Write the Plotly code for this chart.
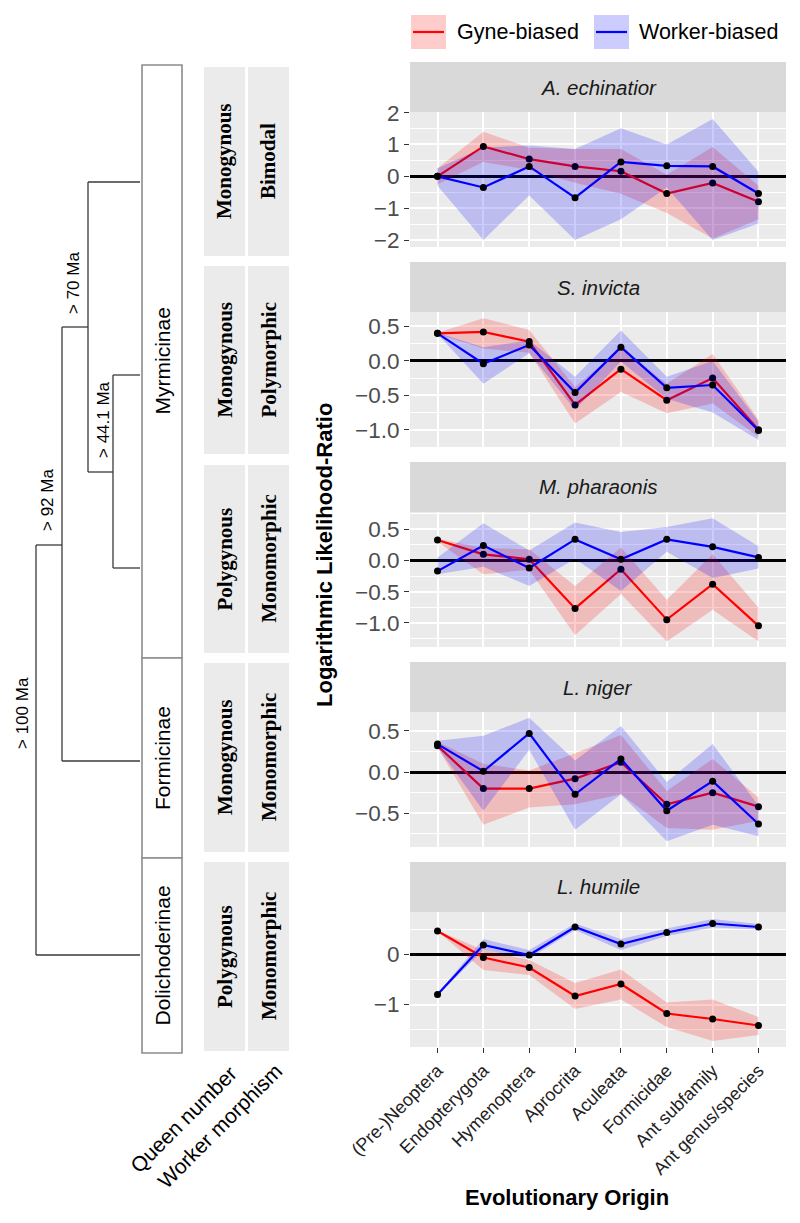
import plotly.graph_objects as go

# ---------------- data ----------------
origins = ["(Pre-)Neoptera", "Endopterygota", "Hymenoptera", "Aprocrita",
           "Aculeata", "Formicidae", "Ant subfamily", "Ant genus/species"]
species = ["A. echinatior", "S. invicta", "M. pharaonis", "L. niger", "L. humile"]

ae_gyne = [0.0, 0.94, 0.54, 0.31, 0.16, -0.54, -0.21, -0.80]
ae_gyne_hi = [0.25, 1.40, 0.90, 0.86, 0.86, 0.05, 0.92, -0.30]
ae_gyne_lo = [-0.25, 0.45, 0.20, -0.20, -0.55, -1.15, -1.95, -1.35]
ae_worker = [0.0, -0.35, 0.31, -0.67, 0.45, 0.33, 0.31, -0.54]
ae_worker_hi = [0.25, 0.90, 0.97, 0.86, 1.51, 1.00, 1.80, 0.14]
ae_worker_lo = [-0.30, -2.00, -0.60, -2.00, -1.35, -0.35, -2.00, -1.48]

si_gyne = [0.40, 0.42, 0.28, -0.64, -0.12, -0.57, -0.25, -1.00]
si_gyne_hi = [0.41, 0.62, 0.45, -0.38, 0.18, -0.33, 0.10, -0.85]
si_gyne_lo = [0.39, 0.18, 0.12, -0.91, -0.45, -0.76, -0.62, -1.10]
si_worker = [0.40, -0.04, 0.23, -0.46, 0.20, -0.39, -0.35, -1.01]
si_worker_hi = [0.41, 0.20, 0.30, -0.23, 0.44, -0.23, 0.00, -0.88]
si_worker_lo = [0.39, -0.33, 0.11, -0.71, -0.01, -0.55, -0.75, -1.15]

mp_gyne = [0.33, 0.10, 0.02, -0.77, -0.14, -0.95, -0.38, -1.05]
mp_gyne_hi = [0.35, 0.20, 0.18, -0.41, 0.21, -0.63, 0.10, -0.76]
mp_gyne_lo = [0.30, -0.22, -0.15, -1.20, -0.54, -1.30, -0.79, -1.30]
mp_worker = [-0.17, 0.24, -0.12, 0.34, 0.02, 0.34, 0.22, 0.05]
mp_worker_hi = [0.05, 0.60, 0.16, 0.61, 0.46, 0.54, 0.68, 0.23]
mp_worker_lo = [-0.22, -0.10, -0.41, 0.03, -0.49, 0.14, -0.28, -0.13]

ln_gyne = [0.32, -0.20, -0.20, -0.08, 0.12, -0.39, -0.25, -0.42]
ln_gyne_hi = [0.37, 0.10, 0.02, 0.23, 0.45, -0.23, 0.16, -0.31]
ln_gyne_lo = [0.30, -0.64, -0.43, -0.39, -0.27, -0.68, -0.70, -0.59]
ln_worker = [0.34, 0.01, 0.47, -0.27, 0.16, -0.47, -0.11, -0.63]
ln_worker_hi = [0.38, 0.44, 0.66, 0.14, 0.56, -0.12, 0.34, -0.41]
ln_worker_lo = [0.30, -0.47, 0.27, -0.70, -0.27, -0.84, -0.64, -0.78]

lh_gyne = [0.47, -0.06, -0.26, -0.83, -0.59, -1.18, -1.29, -1.42]
lh_gyne_hi = [0.48, 0.09, -0.11, -0.57, -0.30, -0.96, -0.90, -1.25]
lh_gyne_lo = [0.46, -0.31, -0.41, -1.09, -0.90, -1.45, -1.73, -1.61]
lh_worker = [-0.80, 0.19, -0.01, 0.55, 0.21, 0.44, 0.62, 0.55]
lh_worker_hi = [-0.78, 0.31, 0.09, 0.62, 0.31, 0.52, 0.71, 0.61]
lh_worker_lo = [-0.82, 0.09, -0.08, 0.49, 0.09, 0.37, 0.54, 0.50]

y_tickvals = [[-2, -1, 0, 1, 2], [-1, -0.5, 0, 0.5], [-1, -0.5, 0, 0.5], [-0.5, 0, 0.5], [-1, 0]]
y_ticktext = [["\u22122", "\u22121", "0", "1", "2"],
              ["\u22121.0", "\u22120.5", "0.0", "0.5"],
              ["\u22121.0", "\u22120.5", "0.0", "0.5"],
              ["\u22120.5", "0.0", "0.5"],
              ["\u22121", "0"]]
y_minor = [[-1.5, -0.5, 0.5, 1.5], [-0.75, -0.25, 0.25], [-1.25, -0.75, -0.25, 0.25, 0.75],
           [-0.75, -0.25, 0.25], [-1.5, -0.5, 0.5]]
y_ranges = [[-2.22, 2.02], [-1.25, 0.71], [-1.39, 0.78], [-0.91, 0.73], [-1.85, 0.85]]

families = ["Myrmicinae", "Formicinae", "Dolichoderinae"]
queen_number = ["Monogynous", "Monogynous", "Polygynous", "Monogynous", "Polygynous"]
worker_morph = ["Bimodal", "Polymorphic", "Monomorphic", "Monomorphic", "Monomorphic"]
age_labels = ["> 70 Ma", "> 44.1 Ma", "> 92 Ma", "> 100 Ma"]

panels = [
    (ae_gyne, ae_gyne_lo, ae_gyne_hi, ae_worker, ae_worker_lo, ae_worker_hi),
    (si_gyne, si_gyne_lo, si_gyne_hi, si_worker, si_worker_lo, si_worker_hi),
    (mp_gyne, mp_gyne_lo, mp_gyne_hi, mp_worker, mp_worker_lo, mp_worker_hi),
    (ln_gyne, ln_gyne_lo, ln_gyne_hi, ln_worker, ln_worker_lo, ln_worker_hi),
    (lh_gyne, lh_gyne_lo, lh_gyne_hi, lh_worker, lh_worker_lo, lh_worker_hi),
]

# ---------------- geometry helpers ----------------
W, H = 800, 1223
OFF = 8  # page body margin in the browser
def fx(x):
    return (x - OFF) / W
def fy(y):
    return 1 - (y - OFF) / H

SANS = "Liberation Sans, Arial, sans-serif"
SERIF = "Liberation Serif, Times New Roman, serif"
RED = "#FF0000"
BLUE = "#0000FF"
RED_FILL = "rgba(255,0,0,0.2)"
BLUE_FILL = "rgba(0,0,255,0.2)"

PX0, PX1 = 410, 786
xs = list(range(1, len(origins) + 1))

fig = go.Figure()
shapes = []
annotations = []

for i, (g, glo, ghi, w, wlo, whi) in enumerate(panels):
    sfx = "" if i == 0 else str(i + 1)
    xa, ya = "x" + sfx, "y" + sfx
    fig.add_trace(go.Scatter(x=xs + xs[::-1], y=ghi + glo[::-1], fill="toself",
                             fillcolor=RED_FILL, line=dict(width=0), mode="lines",
                             hoverinfo="skip", showlegend=False, xaxis=xa, yaxis=ya))
    fig.add_trace(go.Scatter(x=xs, y=g, mode="lines+markers",
                             line=dict(color=RED, width=2.2),
                             marker=dict(color="black", size=7),
                             showlegend=False, xaxis=xa, yaxis=ya))
    fig.add_trace(go.Scatter(x=xs + xs[::-1], y=whi + wlo[::-1], fill="toself",
                             fillcolor=BLUE_FILL, line=dict(width=0), mode="lines",
                             hoverinfo="skip", showlegend=False, xaxis=xa, yaxis=ya))
    fig.add_trace(go.Scatter(x=xs, y=w, mode="lines+markers",
                             line=dict(color=BLUE, width=2.2),
                             marker=dict(color="black", size=7),
                             showlegend=False, xaxis=xa, yaxis=ya))

    top = 62 + 200 * i
    sb = 112 + 200 * i
    bot = 247 + 200 * i
    last = (i == len(panels) - 1)
    fig.layout["xaxis" + sfx] = dict(
        domain=[fx(PX0), fx(PX1)], anchor=ya, range=[0.4, 8.6],
        tickvals=xs, ticktext=origins if last else [""] * len(xs),
        showticklabels=last, tickangle=-45, automargin=False,
        ticks="outside" if last else "", ticklen=5, tickcolor="#333333", tickwidth=1.3,
        tickfont=dict(family=SANS, size=18, color="#222222"),
        showgrid=True, gridcolor="white", gridwidth=1.8, zeroline=False,
        showline=False, fixedrange=True)
    fig.layout["yaxis" + sfx] = dict(
        domain=[fy(bot), fy(sb)], anchor=xa, range=y_ranges[i],
        tickvals=y_tickvals[i], ticktext=y_ticktext[i], automargin=False,
        ticks="outside", ticklen=5, tickcolor="#333333", tickwidth=1.3,
        tickfont=dict(family=SANS, size=22.5, color="#4D4D4D"),
        showgrid=True, gridcolor="white", gridwidth=1.8,
        minor=dict(tickvals=y_minor[i], showgrid=True, gridcolor="white", gridwidth=0.9, ticks=""),
        zeroline=True, zerolinecolor="black", zerolinewidth=2.5,
        showline=False, fixedrange=True)
    shapes.append(dict(type="rect", xref="paper", yref="paper",
                       x0=fx(PX0), x1=fx(PX1), y0=fy(sb), y1=fy(top),
                       fillcolor="#D9D9D9", line=dict(width=0), layer="below"))
    annotations.append(dict(xref="paper", yref="paper", x=fx((PX0 + PX1) / 2), y=fy((top + sb) / 2),
                            text="<i>" + species[i] + "</i>", showarrow=False,
                            xanchor="center", yanchor="middle",
                            font=dict(family=SANS, size=20.5, color="#1A1A1A")))

annotations.append(dict(xref="paper", yref="paper", x=fx(324), y=fy(555),
                        text="<b>Logarithmic Likelihood-Ratio</b>", textangle=-90,
                        showarrow=False, xanchor="center", yanchor="middle",
                        font=dict(family=SANS, size=22, color="black")))
annotations.append(dict(xref="paper", yref="paper", x=fx(567), y=fy(1197),
                        text="<b>Evolutionary Origin</b>",
                        showarrow=False, xanchor="center", yanchor="middle",
                        font=dict(family=SANS, size=22, color="black")))

for (kx0, label, tx, lc, fc) in [(411, "Gyne-biased", 455, RED, RED_FILL),
                                  (594, "Worker-biased", 637, BLUE, BLUE_FILL)]:
    shapes.append(dict(type="rect", xref="paper", yref="paper",
                       x0=fx(kx0), x1=fx(kx0 + 35), y0=fy(49), y1=fy(15),
                       fillcolor=fc, line=dict(width=0)))
    shapes.append(dict(type="line", xref="paper", yref="paper",
                       x0=fx(kx0 + 2), x1=fx(kx0 + 33), y0=fy(32), y1=fy(32),
                       line=dict(color=lc, width=2.2)))
    annotations.append(dict(xref="paper", yref="paper", x=fx(tx), y=fy(32),
                            text=label, showarrow=False, xanchor="left", yanchor="middle",
                            font=dict(family=SANS, size=21.5, color="black")))

TREE = "#3A3A3A"
tree_segments = [
    (88, 182, 140, 182), (113, 375, 140, 375), (113, 568, 140, 568),
    (113, 375, 113, 568), (88, 472, 113, 472), (88, 182, 88, 472),
    (62, 327, 88, 327), (62, 761, 140, 761), (62, 327, 62, 761),
    (36, 545, 62, 545), (36, 955, 140, 955), (36, 545, 36, 955),
]
for (x0, y0, x1, y1) in tree_segments:
    shapes.append(dict(type="line", xref="paper", yref="paper",
                       x0=fx(x0), x1=fx(x1), y0=fy(y0), y1=fy(y1),
                       line=dict(color=TREE, width=1.3)))
age_pos = [(73, 283), (103, 420), (47, 500), (22, 713)]
for lab, (ax_, ay_) in zip(age_labels, age_pos):
    annotations.append(dict(xref="paper", yref="paper", x=fx(ax_), y=fy(ay_),
                            text=lab, textangle=-90, showarrow=False,
                            xanchor="center", yanchor="middle",
                            font=dict(family=SANS, size=17, color="black")))

fam_bounds = [(65, 658), (658, 858), (858, 1053)]
for fam, (y0, y1) in zip(families, fam_bounds):
    shapes.append(dict(type="rect", xref="paper", yref="paper",
                       x0=fx(142), x1=fx(182), y0=fy(y1), y1=fy(y0),
                       fillcolor="white", line=dict(color="#8C8C8C", width=1.6)))
    annotations.append(dict(xref="paper", yref="paper", x=fx(162), y=fy((y0 + y1) / 2),
                            text=fam, textangle=-90, showarrow=False,
                            xanchor="center", yanchor="middle",
                            font=dict(family=SANS, size=21, color="black")))

row_bounds = [(67, 256), (266, 454), (465, 653), (663, 852), (862, 1051)]
cols = [(204, 245), (248, 289)]
for (y0, y1), q, m in zip(row_bounds, queen_number, worker_morph):
    for (cx0, cx1), txt in zip(cols, [q, m]):
        shapes.append(dict(type="rect", xref="paper", yref="paper",
                           x0=fx(cx0), x1=fx(cx1), y0=fy(y1), y1=fy(y0),
                           fillcolor="#EBEBEB", line=dict(width=0)))
        annotations.append(dict(xref="paper", yref="paper", x=fx((cx0 + cx1) / 2), y=fy((y0 + y1) / 2),
                                text="<b>" + txt + "</b>", textangle=-90, showarrow=False,
                                xanchor="center", yanchor="middle",
                                font=dict(family=SERIF, size=21, color="black")))

annotations.append(dict(xref="paper", yref="paper", x=fx(183), y=fy(1119),
                        text="Queen number", textangle=-45, showarrow=False,
                        xanchor="center", yanchor="middle",
                        font=dict(family=SANS, size=21, color="black")))
annotations.append(dict(xref="paper", yref="paper", x=fx(219), y=fy(1126),
                        text="Worker morphism", textangle=-45, showarrow=False,
                        xanchor="center", yanchor="middle",
                        font=dict(family=SANS, size=21, color="black")))

fig.update_layout(
    template="none",
    width=W, height=H, margin=dict(l=0, r=0, t=0, b=0, pad=0, autoexpand=False),
    paper_bgcolor="white", plot_bgcolor="#EBEBEB",
    shapes=shapes, annotations=annotations, showlegend=False,
    font=dict(family=SANS),
)

fig.write_html("out.html")
